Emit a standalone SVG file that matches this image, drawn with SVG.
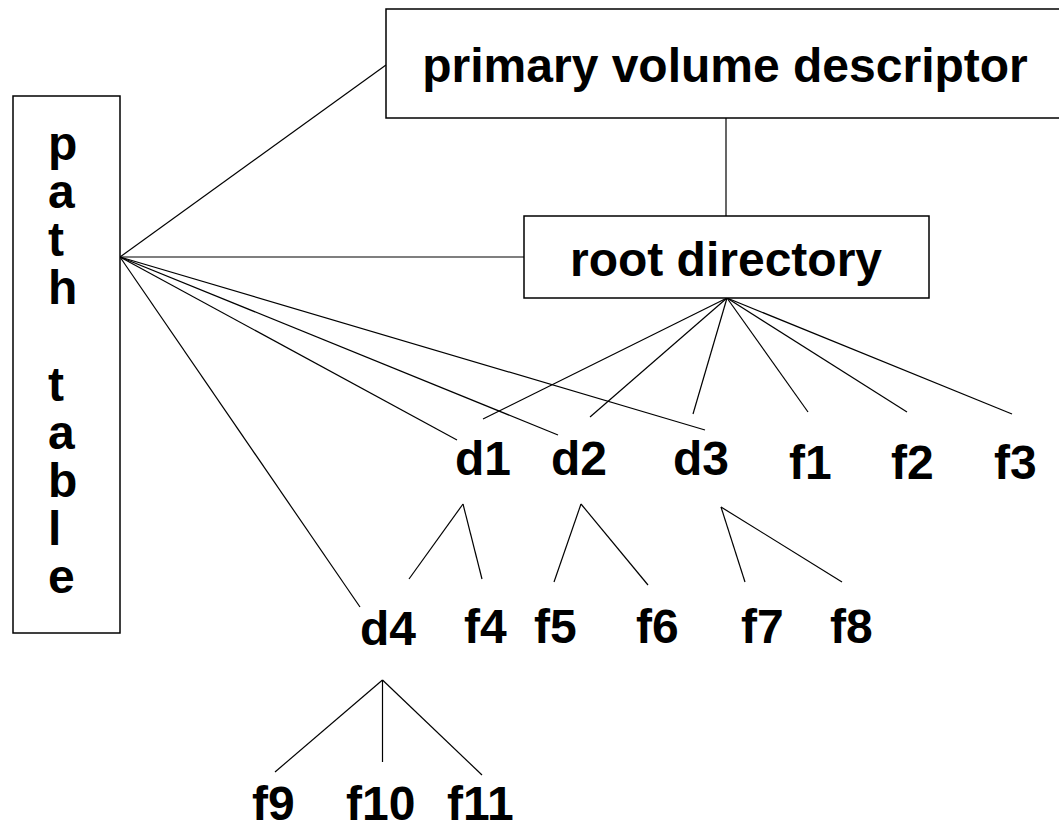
<svg xmlns="http://www.w3.org/2000/svg" width="1059" height="829" viewBox="0 0 1059 829">
<style>
.box{fill:#fff;stroke:#000;stroke-width:1.5}
.lbl{font-family:"Liberation Sans",Arial,sans-serif;font-weight:bold;font-size:48px;fill:#000}
.c line{stroke:#000;stroke-width:1.2}
</style>
<rect width="1059" height="829" fill="#fff"/>
<g id="connectors" class="c">
<line x1="120" y1="257" x2="386" y2="65"/>
<line x1="120" y1="257" x2="524" y2="257"/>
<line x1="120" y1="257" x2="457" y2="440"/>
<line x1="120" y1="257" x2="558" y2="435"/>
<line x1="120" y1="257" x2="705" y2="430"/>
<line x1="120" y1="257" x2="360" y2="607"/>
<line x1="726" y1="118" x2="726" y2="216"/>
<line x1="727" y1="298" x2="483" y2="419"/>
<line x1="727" y1="298" x2="590" y2="417"/>
<line x1="727" y1="298" x2="693" y2="414"/>
<line x1="727" y1="298" x2="808" y2="412"/>
<line x1="727" y1="298" x2="907" y2="412"/>
<line x1="727" y1="298" x2="1012" y2="414"/>
<line x1="463" y1="504" x2="409" y2="579"/>
<line x1="463" y1="504" x2="482" y2="579"/>
<line x1="581" y1="504" x2="554" y2="582"/>
<line x1="581" y1="504" x2="648" y2="585"/>
<line x1="721" y1="507" x2="745" y2="582"/>
<line x1="721" y1="507" x2="842" y2="582"/>
<line x1="382.5" y1="680" x2="275" y2="772"/>
<line x1="382.5" y1="680" x2="382.5" y2="762"/>
<line x1="382.5" y1="680" x2="482" y2="775"/>
</g>
<g id="path-table">
<rect class="box" x="13" y="96" width="107" height="537"/>
<text class="lbl" x="48" y="160">p</text>
<text class="lbl" x="48" y="208">a</text>
<text class="lbl" x="48" y="256">t</text>
<text class="lbl" x="48" y="304">h</text>
<text class="lbl" x="48" y="401">t</text>
<text class="lbl" x="48" y="449">a</text>
<text class="lbl" x="48" y="497">b</text>
<text class="lbl" x="48" y="545">l</text>
<text class="lbl" x="48" y="593">e</text>
</g>
<g id="pvd">
<rect class="box" x="386" y="9" width="680" height="109"/>
<text class="lbl" x="725" y="82" text-anchor="middle">primary volume descriptor</text>
</g>
<g id="root">
<rect class="box" x="524" y="216" width="405" height="82"/>
<text class="lbl" x="726" y="276" text-anchor="middle">root directory</text>
</g>
<g id="d1"><text class="lbl" x="455" y="475">d1</text></g>
<g id="d2"><text class="lbl" x="551" y="475">d2</text></g>
<g id="d3"><text class="lbl" x="673" y="475">d3</text></g>
<g id="f1"><text class="lbl" x="789" y="479">f1</text></g>
<g id="f2"><text class="lbl" x="891" y="479">f2</text></g>
<g id="f3"><text class="lbl" x="994" y="479">f3</text></g>
<g id="d4"><text class="lbl" x="360" y="645">d4</text></g>
<g id="f4"><text class="lbl" x="464" y="643">f4</text></g>
<g id="f5"><text class="lbl" x="534" y="643">f5</text></g>
<g id="f6"><text class="lbl" x="636" y="643">f6</text></g>
<g id="f7"><text class="lbl" x="741" y="643">f7</text></g>
<g id="f8"><text class="lbl" x="830" y="643">f8</text></g>
<g id="f9"><text class="lbl" x="252" y="820">f9</text></g>
<g id="f10"><text class="lbl" x="346" y="820">f10</text></g>
<g id="f11"><text class="lbl" x="447" y="820">f11</text></g>
</svg>
